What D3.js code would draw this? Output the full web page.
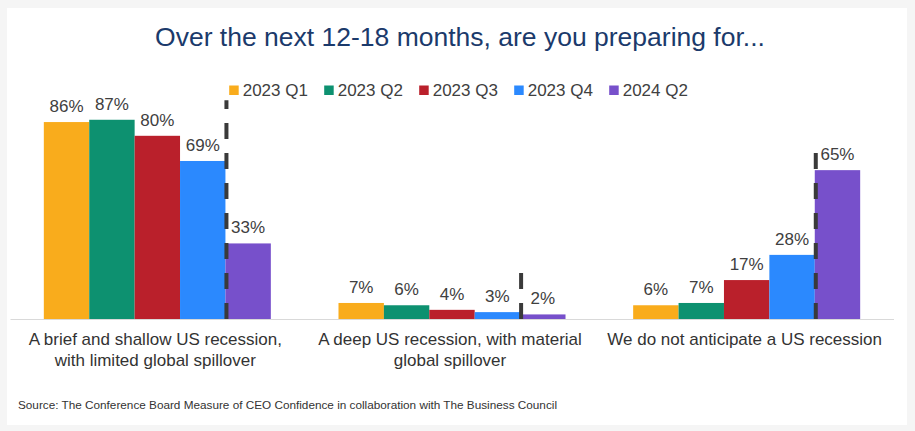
<!DOCTYPE html>
<html>
<head>
<meta charset="utf-8">
<script src="https://cdn.jsdelivr.net/npm/d3@7"></script>
<style>
  html, body { margin: 0; padding: 0; background: #f5f5f5; }
  svg { display: block; }
  text { font-family: "Liberation Sans", Arial, sans-serif; }
</style>
</head>
<body>
<svg id="chart" width="915" height="431"></svg>
<script>
const title = "Over the next 12-18 months, are you preparing for...";
const categories = [
  ["A brief and shallow US recession,", "with limited global spillover"],
  ["A deep US recession, with material", "global spillover"],
  ["We do not anticipate a US recession"]
];
const seriesNames = ["2023 Q1", "2023 Q2", "2023 Q3", "2023 Q4", "2024 Q2"];
const seriesColors = ["#F9AC1C", "#0D9170", "#BA202B", "#2B89FE", "#7750CB"];
const q1_2023 = [86, 7, 6];
const q2_2023 = [87, 6, 7];
const q3_2023 = [80, 4, 17];
const q4_2023 = [69, 3, 28];
const q2_2024 = [33, 2, 65];
const dividerTop = [95.5, 22, 75];   // top of dashed divider, in % units
const source = "Source: The Conference Board Measure of CEO Confidence in collaboration with The Business Council";

const seriesValues = [q1_2023, q2_2023, q3_2023, q4_2023, q2_2024];

const svg = d3.select("#chart");
svg.append("rect").attr("x", 7).attr("y", 8).attr("width", 900).attr("height", 417).attr("fill", "#ffffff");

const catIdx = categories.map((d, i) => i);
const x0 = d3.scaleBand().domain(catIdx).range([10, 894]).padding(0);
const x1 = d3.scaleBand().domain(d3.range(seriesNames.length)).range([0, x0.bandwidth()]).paddingInner(0).paddingOuter(0.745);
const y = d3.scaleLinear().domain([0, 100]).range([319, 90]);

// title
svg.append("text").attr("x", 460).attr("y", 46).attr("text-anchor", "middle")
  .attr("font-size", 26.5).attr("fill", "#1B3A6B").text(title);

// legend
const legend = svg.append("g");
seriesNames.forEach((name, i) => {
  const lx = 242.7 + i * 95;
  legend.append("rect").attr("x", lx - 13.5).attr("y", 85.5).attr("width", 9.5).attr("height", 9.5).attr("fill", seriesColors[i]);
  legend.append("text").attr("x", lx).attr("y", 96).attr("font-size", 17).attr("fill", "#404040").text(name);
});

// baseline
svg.append("line").attr("x1", 10.5).attr("x2", 894).attr("y1", y(0) + 0.5).attr("y2", y(0) + 0.5)
  .attr("stroke", "#d9d9d9").attr("stroke-width", 1);

// bars
const groups = svg.append("g").selectAll("g").data(catIdx).join("g")
  .attr("transform", d => `translate(${x0(d)},0)`);

groups.selectAll("rect").data(c => seriesValues.map((s, i) => ({ s: i, v: s[c] }))).join("rect")
  .attr("x", d => x1(d.s))
  .attr("y", d => y(d.v))
  .attr("width", x1.bandwidth())
  .attr("height", d => y(0) - y(d.v))
  .attr("fill", d => seriesColors[d.s]);

groups.selectAll("text.val").data(c => seriesValues.map((s, i) => ({ s: i, v: s[c] }))).join("text")
  .attr("class", "val")
  .attr("x", d => x1(d.s) + x1.bandwidth() / 2)
  .attr("y", d => y(d.v) - 10)
  .attr("text-anchor", "middle").attr("font-size", 17).attr("fill", "#404040")
  .text(d => d.v + "%");

// dashed dividers between 2023 Q4 and 2024 Q2
groups.append("line")
  .attr("x1", x1(4) + 1).attr("x2", x1(4) + 1)
  .attr("y1", y(0)).attr("y2", c => y(dividerTop[c]))
  .attr("stroke", "#3a3a3a").attr("stroke-width", 4)
  .attr("stroke-dasharray", "16,14");

// category labels
groups.each(function (c) {
  const g = d3.select(this);
  const t = g.append("text").attr("text-anchor", "middle").attr("font-size", 17).attr("fill", "#333333");
  categories[c].forEach((line, j) => {
    t.append("tspan").attr("x", x0.bandwidth() / 2 - 2).attr("y", 345 + j * 21).text(line);
  });
});

// source
svg.append("text").attr("x", 18).attr("y", 409).attr("font-size", 11).attr("fill", "#333333")
  .attr("textLength", 539).attr("lengthAdjust", "spacingAndGlyphs").text(source);
</script>
</body>
</html>
